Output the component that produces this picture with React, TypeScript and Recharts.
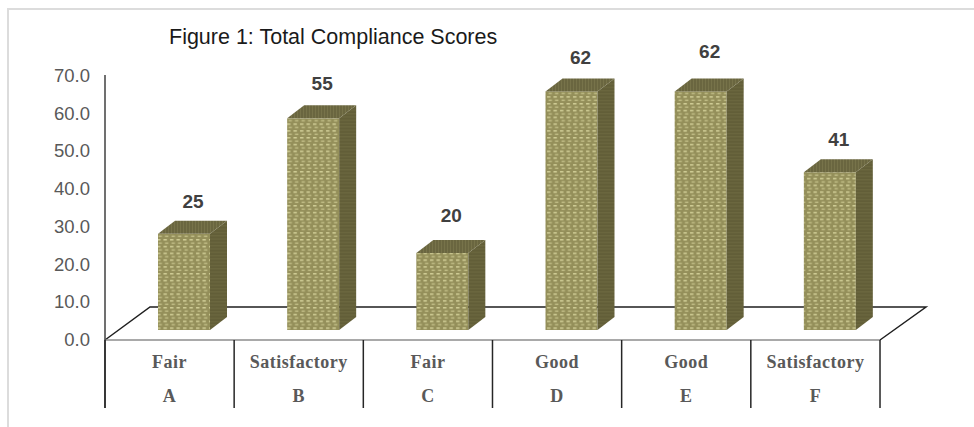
import { BarChart, Bar, XAxis, YAxis, LabelList, Customized } from "recharts";

const letters = ["A", "B", "C", "D", "E", "F"];
const ratings = ["Fair", "Satisfactory", "Fair", "Good", "Good", "Satisfactory"];
const scores = [25, 55, 20, 62, 62, 41];
const yTicks = [0, 10, 20, 30, 40, 50, 60, 70];

const chartData = letters.map((letter, i) => ({ letter, rating: ratings[i], score: scores[i] }));

const BAR_SHIFT = 14;
const DEPTH_X = 17;
const DEPTH_Y = 13;
// the labels were placed by hand in the original, so they sit unevenly
const LABEL_LIFT = [0, 2, 5, 1, 7, 0];

/* ---------- 3D BAR ---------- */

function Box3D({ x, y, width, height }: any) {
  const left = x + BAR_SHIFT;
  const right = left + width;
  const bottom = y + height;
  return (
    <g>
      <rect x={left} y={y} width={width} height={height} fill="url(#frontWeave)" />
      <path
        d={`M${right} ${y}L${right + DEPTH_X} ${y - DEPTH_Y}L${right + DEPTH_X} ${bottom - DEPTH_Y}L${right} ${bottom}Z`}
        fill="url(#sideWeave)"
      />
      <path
        d={`M${left} ${y}L${left + DEPTH_X} ${y - DEPTH_Y}L${right + DEPTH_X} ${y - DEPTH_Y}L${right} ${y}Z`}
        fill="url(#topWeave)"
      />
    </g>
  );
}

/* ---------- SCORE LABEL ---------- */

function ScoreLabel({ x, y, width, value, index }: any) {
  return (
    <text
      x={x + width / 2 + BAR_SHIFT + 9}
      y={y - 26 - LABEL_LIFT[index]}
      textAnchor="middle"
      fill="#404040"
      fontSize={19}
      fontWeight="bold"
      fontFamily="Liberation Sans"
    >
      {value}
    </text>
  );
}

/* ---------- CATEGORY TABLE ---------- */

function TableTick({ x, payload, index }: any) {
  const half = 64.6;
  const top = 340;
  const labelStyle = { fontFamily: "Liberation Serif", fontWeight: "bold", fontSize: 18, letterSpacing: 0.5 };
  return (
    <g>
      <line x1={x - half} x2={x - half} y1={top} y2={top + 68} stroke="#262626" strokeWidth={1.5} />
      {index === letters.length - 1 && (
        <line x1={x + half} x2={x + half} y1={top} y2={top + 68} stroke="#262626" strokeWidth={1.5} />
      )}
      <text x={x} y={top + 28} textAnchor="middle" fill="#595959" style={labelStyle}>
        {ratings[index]}
      </text>
      <text x={x} y={top + 62} textAnchor="middle" fill="#595959" style={labelStyle}>
        {payload.value}
      </text>
    </g>
  );
}

/* ---------- VALUE TICK ---------- */

function ValueTick({ y, payload }: any) {
  return (
    <text x={90} y={y + 6} textAnchor="end" fill="#595959" fontSize={18.5} fontFamily="Liberation Sans">
      {payload.value.toFixed(1)}
    </text>
  );
}

/* ---------- FLOOR ---------- */

function Floor() {
  return (
    <g fill="none">
      <path d="M105 340L150 307L926 307L880 340" stroke="#1f1f1f" strokeWidth={1.5} />
      <line x1={105} x2={880} y1={340} y2={340} stroke="#8c8c8c" strokeWidth={1.5} />
      <line x1={105} x2={105} y1={75} y2={408} stroke="#404040" strokeWidth={1.5} />
    </g>
  );
}

export default function App() {
  return (
    <div style={{ position: "absolute", left: 0, top: 0, width: 974, height: 427, background: "#fff" }}>
      <div style={{ position: "absolute", left: 7, top: 8, right: 0, bottom: 0, borderLeft: "2px solid #dcdcdc", borderTop: "2px solid #dcdcdc" }} />
      <div style={{ position: "absolute", left: 169, top: 25, fontFamily: "Liberation Sans", fontSize: 21.5, color: "#1a1a1a", whiteSpace: "nowrap" }}>
        Figure 1: Total Compliance Scores
      </div>
      <div style={{ position: "absolute", left: 0, top: 0 }}>
        <BarChart
          width={974}
          height={427}
          data={chartData}
          margin={{ top: 76, right: 94, bottom: 0, left: 0 }}
          barSize={52}
        >
          <defs>
            <pattern id="frontWeave" width="6.5" height="6.8" patternUnits="userSpaceOnUse">
              <rect width="6.5" height="6.8" fill="#948f5a" />
              <rect x="1" y="1" width="3.4" height="1.5" fill="#d2cf98" />
              <rect x="2.5" y="4.4" width="3.4" height="1.5" fill="#bfbb84" />
            </pattern>
            <pattern id="sideWeave" width="4" height="3.3" patternUnits="userSpaceOnUse">
              <rect width="4" height="3.3" fill="#625e38" />
              <rect y="1" width="4" height="1" fill="#6d6941" />
            </pattern>
            <pattern id="topWeave" width="3" height="3" patternUnits="userSpaceOnUse">
              <rect width="3" height="3" fill="#6a6640" />
              <rect width="1" height="3" fill="#77734a" />
            </pattern>
          </defs>
          <Customized component={Floor} />
          <XAxis
            dataKey="letter"
            axisLine={false}
            tickLine={false}
            height={87}
            tick={TableTick}
            interval={0}
          />
          <YAxis
            yAxisId="labels"
            width={105}
            domain={[0, 70]}
            ticks={yTicks}
            allowDataOverflow
            interval={0}
            axisLine={false}
            tickLine={false}
            tick={ValueTick}
          />
          {/* bars stand on the floor, ten pixels above the axis zero */}
          <YAxis yAxisId="bars" hide domain={[-2.6, 66]} allowDataOverflow />
          <Bar
            yAxisId="bars"
            dataKey="score"
            shape={Box3D}
            isAnimationActive={false}
          >
            <LabelList dataKey="score" content={ScoreLabel} />
          </Bar>
        </BarChart>
      </div>
    </div>
  );
}
